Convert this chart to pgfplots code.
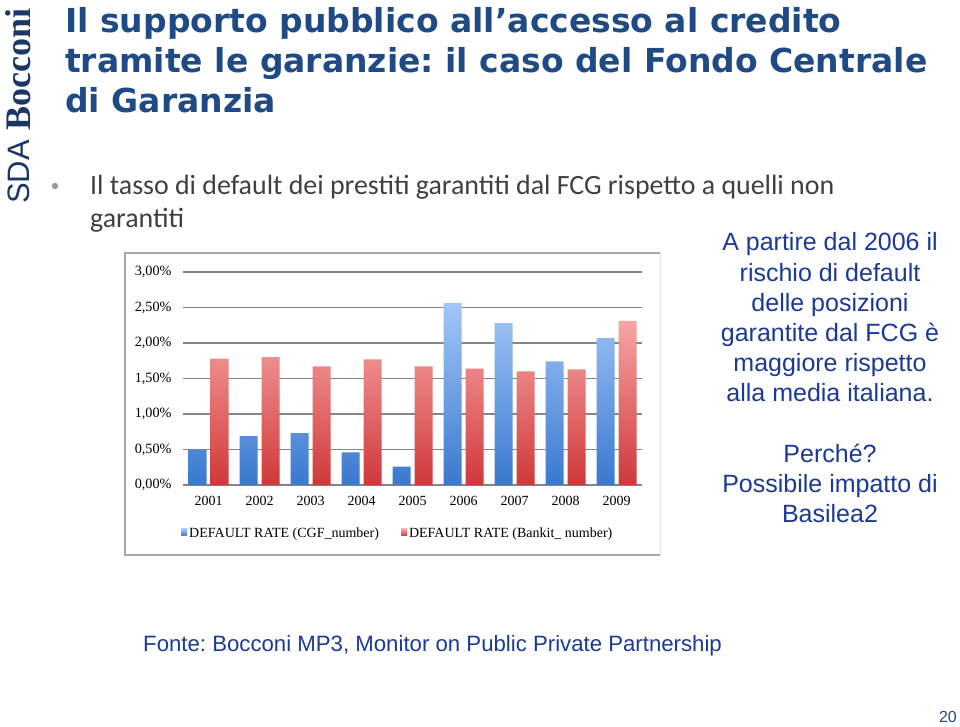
\documentclass[border=0pt]{standalone}
\usepackage{pgfplots}
\pgfplotsset{compat=1.18}
\usepackage{fontspec}
\setmainfont{Liberation Sans}
\newfontfamily\tnr{Liberation Serif}
\newfontfamily\carl{Carlito}
\newfontfamily\titlef{DejaVu Sans}
\definecolor{titleblue}{HTML}{1F4A84}
\definecolor{txtblue}{HTML}{1B3A94}
\definecolor{bulletgray}{HTML}{404040}
\definecolor{logoblue}{HTML}{1B3766}
\definecolor{bluetop}{HTML}{A3C6F7}
\definecolor{bluebot}{HTML}{3A79CF}
\definecolor{redtop}{HTML}{F6A5A5}
\definecolor{redbot}{HTML}{D0383A}
\definecolor{gridgray}{HTML}{858585}
\frenchspacing
\begin{document}
\begin{tikzpicture}[x=1pt,y=1pt]
\useasboundingbox (0,0) rectangle (960,-727);
\fill[white] (0,0) rectangle (960,-727);
% logo
\node[rotate=90, anchor=base west, inner sep=0, text=logoblue, font=\fontsize{31}{31}\selectfont] at (29,-204) {SDA};
\node[rotate=90, anchor=base west, inner sep=0, text=logoblue, font=\tnr\bfseries\fontsize{36}{36}\selectfont] at (30,-131) {Bocconi};
% title
\begin{scope}[every node/.style={anchor=base west, inner sep=0, text=titleblue, font=\titlef\bfseries\fontsize{33}{40}\selectfont}]
\node at (65,-33) {Il supporto pubblico all’accesso al credito};
\node at (65,-73) {tramite le garanzie: il caso del Fondo Centrale};
\node at (65,-113) {di Garanzia};
\end{scope}
% bullet
\fill[gray!80] (55,-186) circle (3.2);
\begin{scope}[every node/.style={anchor=base west, inner sep=0, text=bulletgray, font=\carl\fontsize{27.9}{33}\selectfont}]
\node at (90,-195) {Il tasso di default dei prestiti garantiti dal FCG rispetto a quelli non};
\node at (90,-228) {garantiti};
\end{scope}
% right text
\begin{scope}[every node/.style={anchor=base, inner sep=0, text=txtblue, font=\fontsize{25}{30}\selectfont}]
\node at (830,-251) {A partire dal 2006 il};
\node at (830,-281) {rischio di default};
\node at (830,-311) {delle posizioni};
\node at (830,-341) {garantite dal FCG è};
\node at (830,-371) {maggiore rispetto};
\node at (830,-401) {alla media italiana.};
\node at (830,-462) {Perché?};
\node at (830,-492) {Possibile impatto di};
\node at (830,-522) {Basilea2};
\end{scope}
\node[anchor=base west, inner sep=0, text=txtblue, font=\fontsize{22.2}{26}\selectfont] at (143,-651) {Fonte: Bocconi MP3, Monitor on Public Private Partnership};
\node[anchor=base east, inner sep=0, text=titleblue, font=\fontsize{16}{16}\selectfont] at (957,-722) {20};
% chart frame
\draw[gray!25, line width=1pt] (660,-253) -- (660,-555);
\draw[gray!70, line width=1.2pt] (660,-253) -- (125,-253) -- (125,-555) -- (660,-555);
\begin{axis}[
  at={(183pt,-485pt)}, anchor=south west,
  scale only axis, width=459pt, height=213pt,
  xmin=-0.5, xmax=8.5, ymin=0, ymax=3,
  ybar=4pt, bar width=18pt,
  axis line style={draw=none},
  major tick length=0pt,
  ymajorgrids, grid style={color=gridgray, line width=1.2pt},
  ytick={0,0.5,1,1.5,2,2.5,3},
  yticklabels={{0,00\%},{0,50\%},{1,00\%},{1,50\%},{2,00\%},{2,50\%},{3,00\%}},
  yticklabel style={font=\tnr\fontsize{14.2}{14}\selectfont, text=black, xshift=-8pt},
  xtick={0,1,2,3,4,5,6,7,8},
  xticklabels={2001,2002,2003,2004,2005,2006,2007,2008,2009},
  xticklabel style={font=\tnr\fontsize{14}{14}\selectfont, text=black, yshift=-8pt},
  legend style={at={(0.468,-0.225)}, anchor=center, draw=none, fill=none,
    legend columns=2, font=\tnr\fontsize{14}{14}\selectfont,
    /tikz/every even column/.append style={column sep=20pt}},
  legend image code/.code={\path[#1] (0pt,-3pt) rectangle (6pt,4pt);},
  clip=false,
]
\addplot[draw=none, top color=bluetop, bottom color=bluebot] coordinates {
(0,0.50) (1,0.69) (2,0.73) (3,0.46) (4,0.26) (5,2.56) (6,2.28) (7,1.74) (8,2.07)};
\addlegendentry{DEFAULT RATE (CGF\_number)}
\addplot[draw=none, top color=redtop, bottom color=redbot] coordinates {
(0,1.78) (1,1.80) (2,1.67) (3,1.77) (4,1.67) (5,1.64) (6,1.60) (7,1.63) (8,2.31)};
\addlegendentry{DEFAULT RATE (Bankit\_ number)}
\end{axis}
\end{tikzpicture}
\end{document}
